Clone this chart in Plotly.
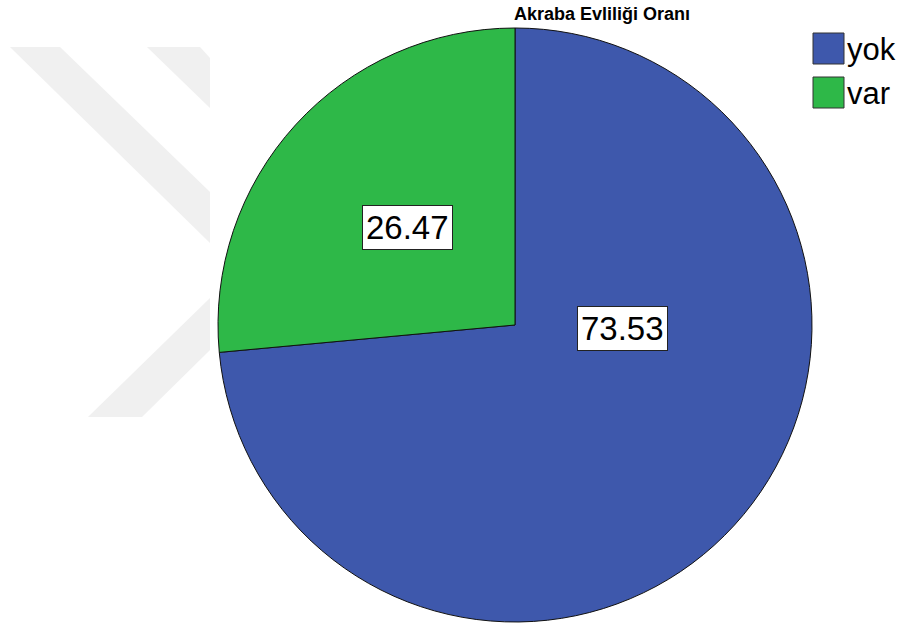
import math
import plotly.graph_objects as go

# Data
categories = ["yok", "var"]
percentages = [73.53, 26.47]
colors = ["#3e58ac", "#2eb848"]
title_text = "Akraba Evliliği Oranı"

W, H = 908, 627


def px(x):
    return x / W


def py(y):
    return 1 - y / H


# Pie geometry (pixels)
cx, cy, r = 515, 325, 297

fig = go.Figure()
fig.add_trace(go.Pie(
    labels=categories,
    values=percentages,
    sort=False,
    direction="clockwise",
    rotation=0,
    marker=dict(colors=colors, line=dict(color="#111111", width=1)),
    textinfo="none",
    hoverinfo="label+value",
    showlegend=False,
    domain=dict(x=[px(cx - r), px(cx + r)], y=[py(cy + r), py(cy - r)]),
))

# Light grey watermark chevrons
def poly(points):
    d = "M " + " L ".join(f"{px(x):.5f},{py(y):.5f}" for x, y in points) + " Z"
    return dict(type="path", xref="paper", yref="paper", path=d,
                fillcolor="#f0f0f0", line=dict(width=0), layer="below")


shapes = [
    poly([(10, 47), (60, 47), (210, 192), (210, 243)]),
    poly([(147, 47), (200, 47), (210, 58), (210, 108)]),
    poly([(88, 417), (142, 417), (210, 350), (210, 298)]),
]

# Legend drawn as large swatches
leg_x0, leg_y0, sw, gap = 813, 33, 31, 44
annotations = []
for i, (cat, col) in enumerate(zip(categories, colors)):
    y0 = leg_y0 + i * gap
    shapes.append(dict(type="rect", xref="paper", yref="paper",
                       x0=px(leg_x0), x1=px(leg_x0 + sw),
                       y0=py(y0 + sw), y1=py(y0),
                       fillcolor=col, line=dict(color="#333333", width=1)))
    annotations.append(dict(x=px(leg_x0 + sw + 1), y=py(y0 + sw / 2 + 1),
                            xref="paper", yref="paper", text=cat,
                            showarrow=False, xanchor="left", yanchor="middle",
                            font=dict(family="Liberation Sans, Arial", size=31, color="#000000")))

# Value labels in white boxes
label_pos = {"var": (407, 227), "yok": (622, 328)}
for cat, val in zip(categories, percentages):
    lx, ly = label_pos[cat]
    annotations.append(dict(x=px(lx), y=py(ly), xref="paper", yref="paper",
                            text=f"{val:.2f}", showarrow=False,
                            xanchor="center", yanchor="middle",
                            bgcolor="#ffffff", bordercolor="#222222",
                            borderwidth=1, borderpad=3,
                            font=dict(family="Liberation Sans, Arial", size=33, color="#000000")))

# Title
annotations.append(dict(x=px(512), y=py(14), xref="paper", yref="paper",
                        text=f"<b>{title_text}</b>", showarrow=False,
                        xanchor="left", yanchor="middle",
                        font=dict(family="Liberation Sans, Arial", size=18, color="#000000")))

fig.update_layout(
    width=W, height=H,
    margin=dict(l=0, r=0, t=0, b=0),
    paper_bgcolor="#ffffff",
    plot_bgcolor="#ffffff",
    shapes=shapes,
    annotations=annotations,
)

fig.write_html("out.html")
